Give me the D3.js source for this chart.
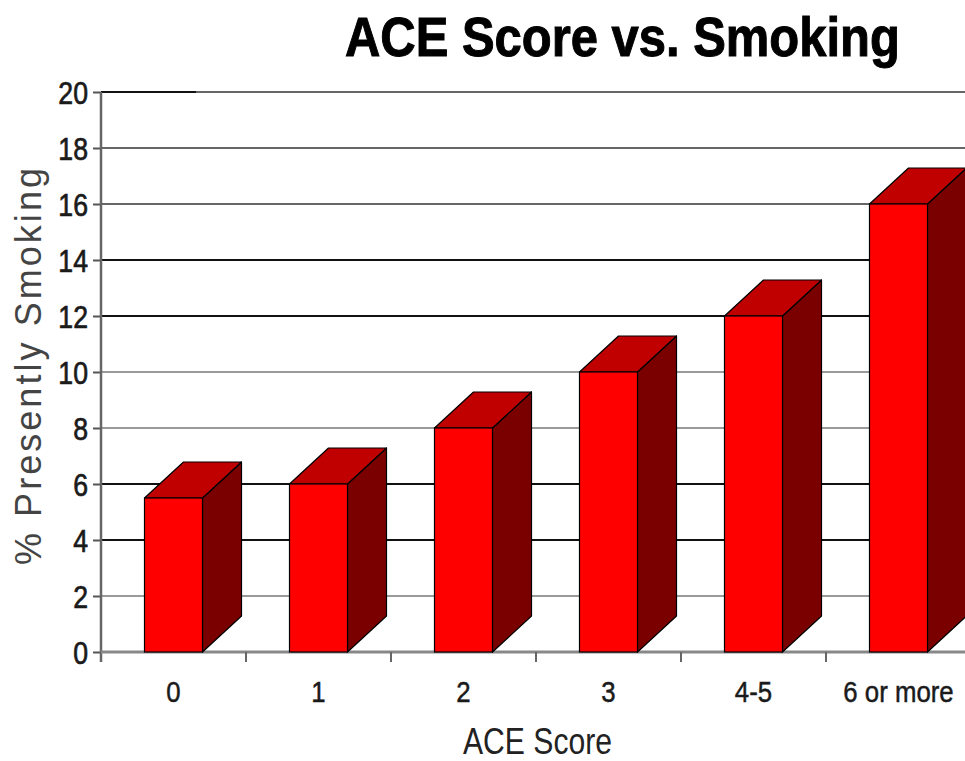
<!DOCTYPE html>
<html>
<head>
<meta charset="utf-8">
<script src="https://cdn.jsdelivr.net/npm/d3@7"></script>
<style>
  html, body { margin: 0; padding: 0; background: #fff; }
  svg { display: block; }
</style>
</head>
<body>
<svg id="chart" width="965" height="761"></svg>
<script>
const categories = ["0", "1", "2", "3", "4-5", "6 or more"];
const values = [5.5, 6, 8, 10, 12, 16];
const yTicks = [0, 2, 4, 6, 8, 10, 12, 14, 16, 18, 20];
const titleText = "ACE Score vs. Smoking";
const yTitle = "% Presently Smoking";
const xTitle = "ACE Score";

(function () {
const svg = d3.select("#chart");
const W = 965, H = 761;
svg.append("rect").attr("width", W).attr("height", H).attr("fill", "#fff");

const plotLeft = 101, plotBottom = 652, plotTop = 92;
const x = d3.scaleBand().domain(categories).range([plotLeft, plotLeft + 145 * categories.length]).padding(0);
const y = d3.scaleLinear().domain([0, 20]).range([plotBottom, plotTop]);

const darkTicks = new Set([4, 6, 12, 14]);

// gridlines
const grid = svg.append("g");
yTicks.filter(t => t > 0).forEach(t => {
  grid.append("line")
    .attr("x1", plotLeft).attr("x2", W)
    .attr("y1", y(t)).attr("y2", y(t))
    .attr("stroke", darkTicks.has(t) ? "#111" : (t >= 16 ? "#666" : "#9a9a9a"))
    .attr("stroke-width", 2);
});
grid.append("line").attr("x1", plotLeft).attr("x2", 196).attr("y1", y(20)).attr("y2", y(20))
  .attr("stroke", "#111").attr("stroke-width", 2);

// y axis
const yAxis = svg.append("g").attr("transform", `translate(${plotLeft},0)`)
  .call(d3.axisLeft(y).tickValues(yTicks).tickSize(8).tickPadding(4));
yAxis.select(".domain").remove();
yAxis.selectAll(".tick line").attr("stroke", "#555").attr("stroke-width", 2);
yAxis.selectAll(".tick text").remove();
yAxis.selectAll(".tick").each(function(d) {
  d3.select(this).append("text")
    .attr("transform", `translate(-13,0) scale(0.86,1)`)
    .attr("text-anchor", "end")
    .attr("dy", "0.36em")
    .attr("fill", "#1a1a1a")
    .attr("stroke", "#1a1a1a").attr("stroke-width", 0.7)
    .style("font-family", "'Liberation Sans', Arial, sans-serif")
    .style("font-size", "31px")
    .text(d);
});
svg.append("line").attr("x1", plotLeft).attr("x2", plotLeft).attr("y1", plotTop).attr("y2", plotBottom + 10)
  .attr("stroke", "#666").attr("stroke-width", 2.5);

// baseline
svg.append("line").attr("x1", plotLeft).attr("x2", W).attr("y1", plotBottom).attr("y2", plotBottom)
  .attr("stroke", "#888").attr("stroke-width", 3);

// x boundary ticks
categories.forEach((c, i) => {
  if (i === 0) return;
  svg.append("line").attr("x1", x(c)).attr("x2", x(c)).attr("y1", plotBottom).attr("y2", plotBottom + 10)
    .attr("stroke", "#666").attr("stroke-width", 2);
});

// x labels
const xAxis = svg.append("g").attr("transform", `translate(0,${plotBottom})`)
  .call(d3.axisBottom(x).tickSize(0));
xAxis.select(".domain").remove();
xAxis.selectAll(".tick text").remove();
xAxis.selectAll(".tick").each(function(d) {
  d3.select(this).append("text")
    .attr("transform", `translate(0,50) scale(0.86,1)`)
    .attr("text-anchor", "middle")
    .attr("fill", "#1a1a1a")
    .attr("stroke", "#1a1a1a").attr("stroke-width", 0.5)
    .style("font-family", "'Liberation Sans', Arial, sans-serif")
    .style("font-size", "30px")
    .text(d);
});

// 3D bars
const fw = 58, dx = 39, dy = 36;
const bars = svg.append("g");
categories.forEach((c, i) => {
  const v = values[i];
  const cx = x(c) + x.bandwidth() / 2;
  const x0 = cx - fw / 2, x1 = cx + fw / 2;
  const yt = y(v), yb = y(0);
  const g = bars.append("g");
  g.append("path")
    .attr("d", `M${x1},${yt} L${x1 + dx},${yt - dy} L${x1 + dx},${yb - dy} L${x1},${yb} Z`)
    .attr("fill", "#7a0000").attr("stroke", "#000").attr("stroke-width", 1.2).attr("stroke-linejoin", "round");
  g.append("path")
    .attr("d", `M${x0},${yt} L${x0 + dx},${yt - dy} L${x1 + dx},${yt - dy} L${x1},${yt} Z`)
    .attr("fill", "#c00000").attr("stroke", "#000").attr("stroke-width", 1.2).attr("stroke-linejoin", "round");
  g.append("rect")
    .attr("x", x0).attr("y", yt).attr("width", fw).attr("height", yb - yt)
    .attr("fill", "#ff0000").attr("stroke", "#000").attr("stroke-width", 1.2);
});

// helper: fit text to a width via horizontal scale
function fitText(sel, targetW, x0, y0) {
  const w = sel.node().getComputedTextLength();
  const s = targetW / w;
  sel.attr("transform", `translate(${x0},${y0}) scale(${s},1)`);
}

// title
const t = svg.append("text")
  .attr("x", 0).attr("y", 0)
  .attr("fill", "#000")
  .attr("stroke", "#000").attr("stroke-width", 1)
  .style("font-family", "'Liberation Sans', Arial, sans-serif")
  .style("font-weight", "bold")
  .style("font-size", "55px")
  .text(titleText);
fitText(t, 555, 345, 56);

// y title
svg.append("text")
  .attr("transform", `translate(41,565) rotate(-90)`)
  .attr("x", 0).attr("y", 0)
  .attr("textLength", 397).attr("lengthAdjust", "spacing")
  .attr("fill", "#444")
  .style("font-family", "'Liberation Sans', Arial, sans-serif")
  .style("font-size", "36px")
  .text(yTitle);

// x title
const xt = svg.append("text")
  .attr("x", 0).attr("y", 0)
  .attr("fill", "#222")
  .style("font-family", "'Liberation Sans', Arial, sans-serif")
  .style("font-size", "36px")
  .text(xTitle);
fitText(xt, 149, 463, 754);
})();
</script>
</body>
</html>
